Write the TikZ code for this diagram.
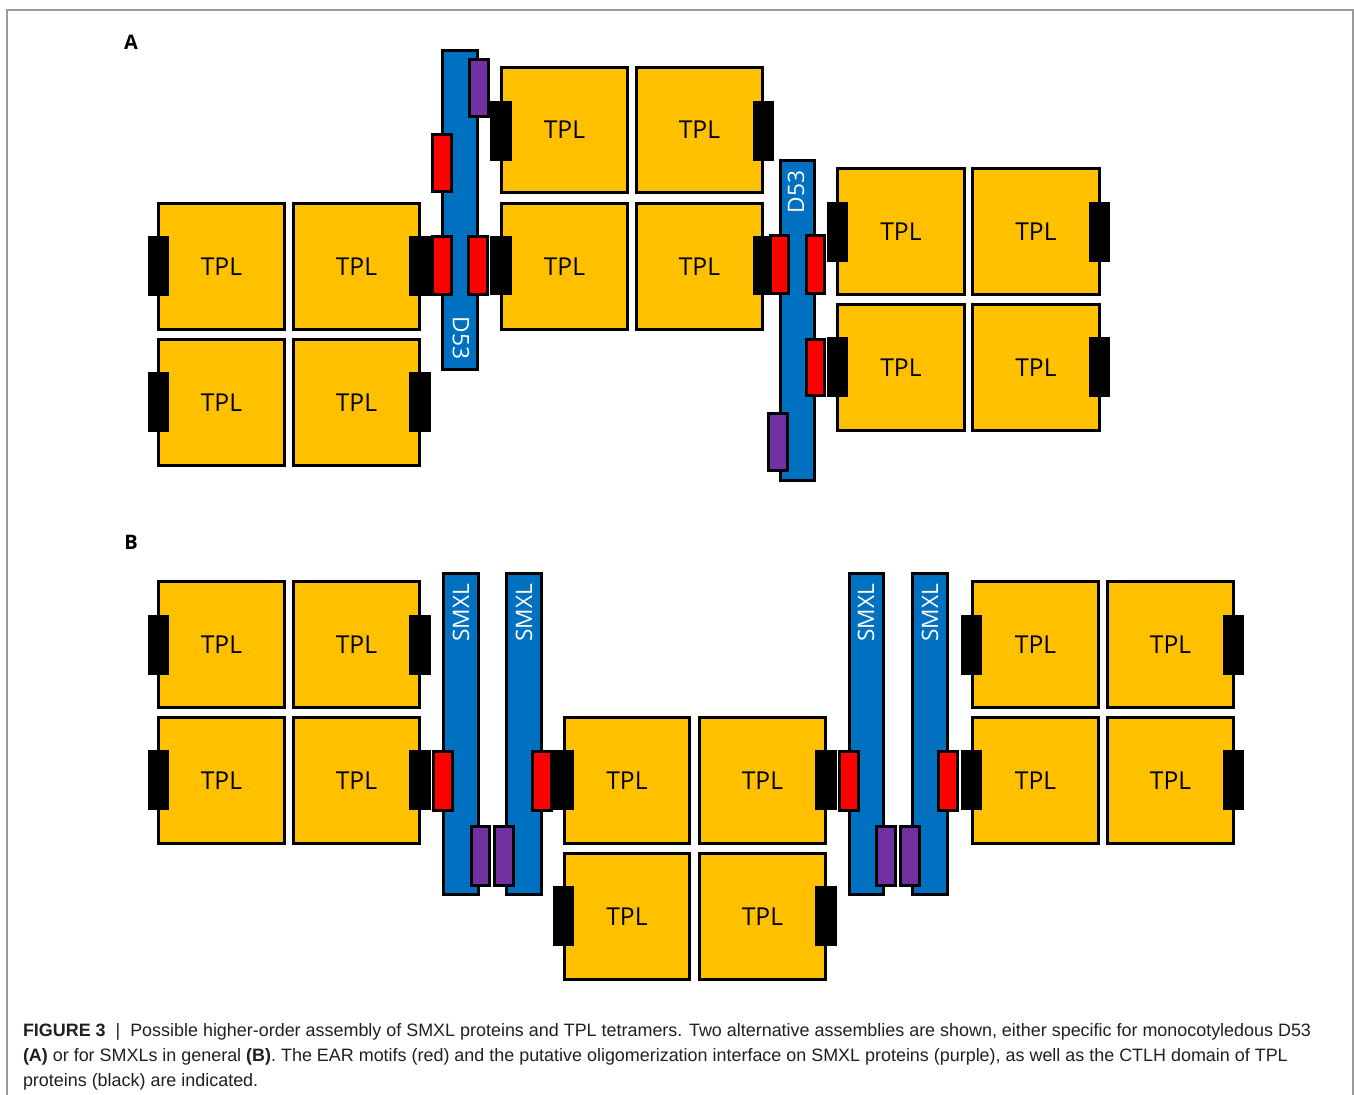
\documentclass[tikz,border=0pt]{standalone}
\usepackage{fontspec}
\setmainfont{Liberation Sans}
\newfontfamily\osans{Open Sans}
\definecolor{tplY}{HTML}{FFC000}
\definecolor{barB}{HTML}{0070C0}
\definecolor{earR}{HTML}{FF0000}
\definecolor{oligP}{HTML}{7030A0}
\definecolor{frameG}{HTML}{999999}
\definecolor{capT}{HTML}{231F20}
\tikzset{
  every node/.style={inner sep=0pt, outer sep=0pt},
  tpl/.style={draw=black, fill=tplY, line width=2.2pt, font=\osans\fontsize{18.5}{20}\selectfont},
  ctlh/.style={draw=black, fill=black, line width=1pt},
  smxlbar/.style={draw=black, fill=barB, line width=2.2pt},
  ear/.style={draw=black, fill=earR, line width=2.2pt},
  olig/.style={draw=black, fill=oligP, line width=2.2pt},
  bartext/.style={text=white, font=\osans\fontsize{17}{19}\selectfont},
  panel/.style={font=\osans\bfseries\fontsize{15}{17}\selectfont},
  captext/.style={anchor=base west, text=capT, font=\fontsize{13.45}{15}\selectfont},
}
\newcommand\R[7]{%
  \pgfmathsetmacro\rw{(#4-#2-3)*0.75}%
  \pgfmathsetmacro\rh{(#5-#3-3)*0.75}%
  \node[#6, minimum width=\rw pt, minimum height=\rh pt] (#1) at ({(#2+#4)/2},{(#3+#5)/2}) {#7};}
\begin{document}
\begin{tikzpicture}[x=0.75pt, y=-0.75pt]
\useasboundingbox (0,0) rectangle (1354,1095);
\fill[white] (0,0) rectangle (1354,1095);
\draw[frameG, line width=0.9pt] (7,1095) -- (7,10) -- (1353,10) -- (1353,1095);

% ---------------- Panel A ----------------
\node[panel] (labA) at (131,42) {A};
% left tetramer
\R{a1}{157}{202}{286}{331}{tpl}{TPL}
\R{a2}{292}{202}{421}{331}{tpl}{TPL}
\R{a3}{157}{338}{286}{467}{tpl}{TPL}
\R{a4}{292}{338}{421}{467}{tpl}{TPL}
\R{ak1}{147}{235}{170}{297}{ctlh}{}
\R{ak2}{408}{235}{432}{297}{ctlh}{}
\R{ak3}{147}{371}{170}{433}{ctlh}{}
\R{ak4}{408}{371}{432}{433}{ctlh}{}
% middle tetramer
\R{m1}{500}{66}{629}{194}{tpl}{TPL}
\R{m2}{635}{66}{764}{194}{tpl}{TPL}
\R{m3}{500}{202}{629}{331}{tpl}{TPL}
\R{m4}{635}{202}{764}{331}{tpl}{TPL}
\R{mk1}{489}{100}{513}{162}{ctlh}{}
\R{mk2}{489}{235}{513}{296}{ctlh}{}
\R{mk3}{752}{100}{775}{162}{ctlh}{}
\R{mk4}{752}{235}{775}{296}{ctlh}{}
% right tetramer
\R{n1}{836}{167}{966}{296}{tpl}{TPL}
\R{n2}{971}{167}{1101}{296}{tpl}{TPL}
\R{n3}{836}{303}{966}{432}{tpl}{TPL}
\R{n4}{971}{303}{1101}{432}{tpl}{TPL}
\R{nk1}{826}{201}{849}{263}{ctlh}{}
\R{nk2}{826}{336}{849}{398}{ctlh}{}
\R{nk3}{1088}{201}{1111}{263}{ctlh}{}
\R{nk4}{1088}{336}{1111}{398}{ctlh}{}
% D53 bars
\R{d1}{441}{49}{479}{371}{smxlbar}{}
\node[bartext, rotate=-90] (d1t) at (461,338) {D53};
\R{p1}{468}{58}{490}{118}{olig}{}
\R{r1}{431}{133}{453}{193}{ear}{}
\R{r2}{431}{235}{453}{296}{ear}{}
\R{r3}{467}{235}{489}{296}{ear}{}
\R{d2}{779}{159}{816}{482}{smxlbar}{}
\node[bartext, rotate=90] (d2t) at (796,192) {D53};
\R{r4}{769}{234}{790}{295}{ear}{}
\R{r5}{805}{234}{826}{295}{ear}{}
\R{r6}{805}{338}{826}{397}{ear}{}
\R{p2}{767}{412}{789}{472}{olig}{}

% ---------------- Panel B ----------------
\node[panel] (labB) at (131,542) {B};
% left tetramer
\R{b1}{157}{580}{286}{709}{tpl}{TPL}
\R{b2}{292}{580}{421}{709}{tpl}{TPL}
\R{b3}{157}{716}{286}{845}{tpl}{TPL}
\R{b4}{292}{716}{421}{845}{tpl}{TPL}
\R{bk1}{147}{614}{170}{676}{ctlh}{}
\R{bk2}{408}{614}{432}{676}{ctlh}{}
\R{bk3}{147}{749}{170}{811}{ctlh}{}
\R{bk4}{408}{749}{432}{811}{ctlh}{}
% middle tetramer
\R{c1}{563}{716}{691}{845}{tpl}{TPL}
\R{c2}{698}{716}{827}{845}{tpl}{TPL}
\R{c3}{563}{852}{691}{981}{tpl}{TPL}
\R{c4}{698}{852}{827}{981}{tpl}{TPL}
\R{ck1}{552}{749}{575}{811}{ctlh}{}
\R{ck2}{552}{885}{575}{947}{ctlh}{}
\R{ck3}{814}{749}{838}{811}{ctlh}{}
\R{ck4}{814}{885}{838}{947}{ctlh}{}
% right tetramer
\R{e1}{971}{580}{1100}{709}{tpl}{TPL}
\R{e2}{1106}{580}{1235}{709}{tpl}{TPL}
\R{e3}{971}{716}{1100}{845}{tpl}{TPL}
\R{e4}{1106}{716}{1235}{845}{tpl}{TPL}
\R{ek1}{960}{614}{983}{676}{ctlh}{}
\R{ek2}{960}{749}{983}{811}{ctlh}{}
\R{ek3}{1222}{614}{1245}{676}{ctlh}{}
\R{ek4}{1222}{749}{1245}{811}{ctlh}{}
% SMXL bars
\R{s1}{442}{572}{480}{896}{smxlbar}{}
\node[bartext, rotate=90] (s1t) at (461,613) {SMXL};
\R{s2}{505}{572}{543}{896}{smxlbar}{}
\node[bartext, rotate=90] (s2t) at (524,613) {SMXL};
\R{s3}{848}{572}{885}{896}{smxlbar}{}
\node[bartext, rotate=90] (s3t) at (866,613) {SMXL};
\R{s4}{911}{572}{949}{896}{smxlbar}{}
\node[bartext, rotate=90] (s4t) at (930,613) {SMXL};
\R{br1}{432}{750}{454}{812}{ear}{}
\R{br2}{531}{750}{553}{812}{ear}{}
\R{br3}{838}{750}{860}{812}{ear}{}
\R{br4}{937}{750}{959}{812}{ear}{}
\R{bp1}{470}{825}{491}{887}{olig}{}
\R{bp2}{493}{825}{515}{887}{olig}{}
\R{bp3}{875}{825}{897}{887}{olig}{}
\R{bp4}{899}{825}{921}{887}{olig}{}

% ---------------- Caption ----------------
\node[captext] (cap1) at (23,1036) {\textbf{FIGURE 3}\ \ |\ \ Possible higher-order assembly of SMXL proteins and TPL tetramers. Two alternative assemblies are shown, either specific for monocotyledous D53};
\node[captext] (cap2) at (23,1061) {\textbf{(A)} or for SMXLs in general \textbf{(B)}. The EAR motifs (red) and the putative oligomerization interface on SMXL proteins (purple), as well as the CTLH domain of TPL};
\node[captext] (cap3) at (23,1086) {proteins (black) are indicated.};
\end{tikzpicture}
\end{document}
